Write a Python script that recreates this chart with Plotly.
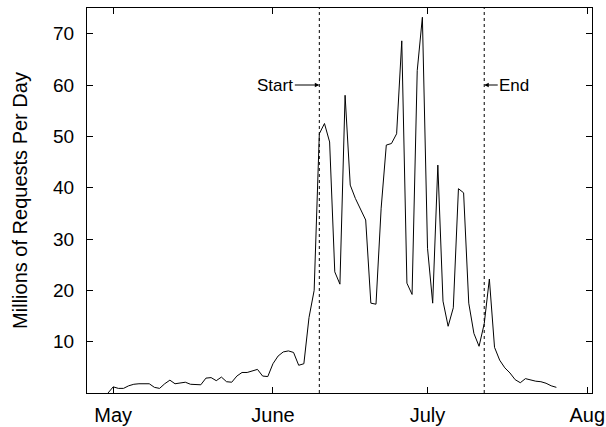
import pandas as pd
import plotly.graph_objects as go

# Daily request volume (millions), starting 30 April
first_day = "2010-04-30"
requests_millions = [
    0.0, 1.2, 0.9, 0.9, 1.4, 1.7, 1.8, 1.8, 1.8, 1.1,
    0.9, 1.8, 2.5, 1.8, 2.0, 2.1, 1.7, 1.6, 1.6, 2.9,
    3.0, 2.4, 3.1, 2.2, 2.1, 3.3, 4.0, 4.0, 4.3, 4.6,
    3.3, 3.2, 5.7, 7.2, 8.0, 8.2, 7.9, 5.4, 5.7, 14.7,
    20.0, 50.5, 52.5, 48.9, 23.6, 21.2, 58.0, 40.5, 37.9, 35.8,
    33.7, 17.5, 17.3, 36.0, 48.3, 48.6, 50.5, 68.6, 21.4, 19.2,
    62.8, 73.2, 28.2, 17.5, 44.4, 17.9, 13.0, 16.6, 39.8, 39.0,
    17.5, 11.6, 9.1, 13.5, 22.2, 8.9, 6.4, 4.9, 3.9, 2.6,
    2.0, 2.8, 2.5, 2.3, 2.2, 1.9, 1.4, 1.1,
]
dates = pd.date_range(first_day, periods=len(requests_millions), freq="D")

month_ticks = ["2010-05-01", "2010-06-01", "2010-07-01", "2010-08-01"]
month_labels = ["May", "June", "July", "Aug"]
y_ticks = [10, 20, 30, 40, 50, 60, 70]

start_date = "2010-06-10"
end_date = "2010-07-12"
marker_level = 60
x_range = ["2010-04-25 22:00", "2010-08-01 22:00"]
y_range = [0, 75]

FONT = "Liberation Sans, Arial, Helvetica, sans-serif"

fig = go.Figure()
fig.add_trace(go.Scatter(
    x=dates, y=requests_millions, mode="lines",
    line=dict(color="black", width=1), showlegend=False,
))

for d in (start_date, end_date):
    fig.add_shape(type="line", xref="x", yref="paper", x0=d, x1=d, y0=0, y1=1,
                  line=dict(color="black", width=1, dash="dot"))

fig.add_annotation(x=start_date, y=marker_level, text="Start", showarrow=True,
                   ax=-44, ay=0, arrowhead=2, arrowsize=0.9, arrowwidth=1,
                   arrowcolor="black", font=dict(family=FONT, size=17, color="black"))
fig.add_annotation(x=end_date, y=marker_level, text="End", showarrow=True,
                   ax=30, ay=0, arrowhead=2, arrowsize=0.9, arrowwidth=1,
                   arrowcolor="black", font=dict(family=FONT, size=17, color="black"))

fig.update_layout(
    width=606, height=427,
    margin=dict(l=87, r=14, t=8, b=34),
    paper_bgcolor="white", plot_bgcolor="white",
    font=dict(family=FONT, color="black"),
    xaxis=dict(
        type="date", range=x_range, automargin=False,
        tickvals=month_ticks, ticktext=month_labels,
        ticks="inside", ticklen=6, tickwidth=1, tickcolor="black",
        showline=True, linecolor="black", linewidth=1, mirror="allticks",
        showgrid=False, zeroline=False,
        tickfont=dict(size=20, family=FONT),
        ticklabelstandoff=4,
    ),
    yaxis=dict(
        range=y_range, tickvals=y_ticks, automargin=False,
        ticks="inside", ticklen=6, tickwidth=1, tickcolor="black",
        showline=True, linecolor="black", linewidth=1, mirror="allticks",
        showgrid=False, zeroline=False,
        tickfont=dict(size=19, family=FONT),
        ticklabelstandoff=8,
        title=dict(text="Millions of Requests Per Day", font=dict(size=20, family=FONT),
                   standoff=20),
    ),
)

fig.write_html("out.html", config={"displayModeBar": False},
               post_script="document.body.style.margin='0px';document.body.style.overflow='hidden';")
